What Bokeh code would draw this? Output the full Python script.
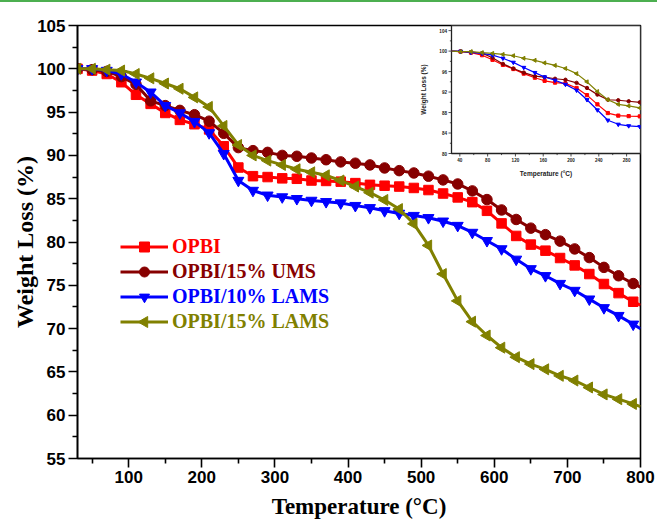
import math

from bokeh.core.properties import value
from bokeh.embed import file_html
from bokeh.layouts import column
from bokeh.models import Div, FixedTicker, Legend, LegendItem, Range1d
from bokeh.plotting import figure
from bokeh.resources import INLINE

# ---- TGA data (weight remaining, %) ----
temperature = [30, 50, 70, 90, 110, 130, 150, 170, 190, 210, 230, 250, 270, 290,
               310, 330, 350, 370, 390, 410, 430, 450, 470, 490, 510, 530, 550,
               570, 590, 610, 630, 650, 670, 690, 710, 730, 750, 770, 790, 800]

opbi = [100.0, 99.8, 99.4, 98.45, 97.0, 95.95, 94.9, 94.1, 93.6, 93.0, 91.05,
        88.6, 87.6, 87.5, 87.35, 87.3, 87.1, 87.05, 86.97, 86.8, 86.6, 86.5,
        86.4, 86.24, 86.0, 85.6, 85.15, 84.6, 83.6, 82.15, 80.7, 79.7, 79.0,
        78.15, 77.3, 76.3, 75.15, 74.1, 73.1, 72.7]

opbi_ums15 = [100.0, 99.9, 99.7, 99.1, 98.2, 96.3, 95.75, 95.2, 94.7, 93.95,
              92.55, 90.9, 90.55, 90.35, 90.0, 89.9, 89.7, 89.5, 89.25, 89.1,
              88.9, 88.55, 88.24, 87.97, 87.6, 87.17, 86.7, 85.9, 84.9, 83.7,
              82.6, 81.6, 80.85, 80.1, 79.2, 78.2, 77.07, 76.1, 75.2, 74.8]

opbi_lams10 = [100.0, 100.0, 99.8, 99.4, 98.45, 97.3, 95.75, 94.9, 93.9, 92.6,
               90.2, 87.1, 85.95, 85.4, 85.2, 85.0, 84.8, 84.65, 84.5, 84.2,
               83.95, 83.6, 83.3, 83.05, 82.8, 82.4, 81.9, 81.1, 80.15, 79.2,
               78.0, 76.9, 76.1, 75.2, 74.4, 73.4, 72.4, 71.5, 70.5, 70.0]

opbi_lams15 = [100.0, 100.0, 99.9, 99.8, 99.4, 98.9, 98.3, 97.7, 96.7, 95.6,
               93.4, 91.2, 90.0, 89.4, 88.9, 88.4, 88.05, 87.7, 87.1, 86.4,
               85.7, 84.85, 83.8, 82.1, 79.6, 76.3, 73.2, 70.8, 69.2, 67.8,
               66.7, 65.9, 65.3, 64.55, 64.0, 63.2, 62.4, 61.85, 61.3, 61.0]

# low-temperature detail (inset)
inset_temperature = [28, 41, 56, 72, 87, 102, 117, 132, 148, 162, 177, 192,
                     208, 223, 238, 253, 268, 283, 299]
inset_opbi = [100.0, 99.9, 99.7, 99.2, 98.3, 97.3, 96.5, 95.6, 94.8, 94.2,
              93.85, 93.7, 92.8, 91.4, 89.6, 87.9, 87.4, 87.3, 87.25]
inset_ums15 = [100.0, 99.95, 99.8, 99.6, 98.7, 97.5, 96.6, 95.8, 95.1, 94.9,
               94.6, 94.4, 93.8, 92.8, 91.5, 90.5, 90.4, 90.2, 90.0]
inset_lams10 = [100.0, 99.95, 99.75, 99.55, 99.2, 98.6, 97.8, 96.8, 95.8,
                94.95, 94.3, 93.5, 92.35, 90.5, 88.5, 86.5, 85.7, 85.4, 85.25]
inset_lams15 = [100.0, 99.9, 99.9, 99.7, 99.55, 99.35, 99.1, 98.6, 98.2, 97.7,
                97.2, 96.6, 95.6, 94.0, 92.1, 90.5, 89.6, 89.3, 88.9]

series_names = ["OPBI", "OPBI/15% UMS", "OPBI/10% LAMS", "OPBI/15% LAMS"]
x_ticks = [100, 200, 300, 400, 500, 600, 700, 800]
y_ticks = [55, 60, 65, 70, 75, 80, 85, 90, 95, 100, 105]
inset_x_ticks = [40, 80, 120, 160, 200, 240, 280]
inset_y_ticks = [80, 84, 88, 92, 96, 100, 104]

# ---- styles ----
colors = ["#ff0000", "#870000", "#0000ff", "#808000"]
markers = ["square", "circle", "inverted_triangle", "triangle"]
angles = [0, 0, 0, math.pi / 2]          # last one: left-pointing triangle
sizes = [9.5, 10.5, 11, 11]
inset_sizes = [3.2, 3.4, 4, 4]

W, H = 657, 519
TOP = 2                                    # height of the rule above the figure
FL, FR, FT, FB = 77, 640, 23, 456          # main frame box (figure pixels)
IL, IR, IT, IB = 451, 640, 23, 151          # inset box (figure pixels)

p = figure(width=W, height=H, x_range=Range1d(30, 800), y_range=Range1d(55, 105),
           output_backend="svg", toolbar_location=None,
           min_border_left=FL, min_border_right=W - FR,
           min_border_top=FT, min_border_bottom=H - FB)
p.background_fill_color = "white"
p.border_fill_color = "white"
p.outline_line_color = "black"
p.outline_line_width = 1.6
p.xgrid.visible = False
p.ygrid.visible = False


def mids(t):
    return [(a + b) / 2 for a, b in zip(t[:-1], t[1:])]


p.xaxis.ticker = FixedTicker(ticks=x_ticks, minor_ticks=[50] + [t + 50 for t in x_ticks[:-1]])
p.yaxis.ticker = FixedTicker(ticks=y_ticks, minor_ticks=mids(y_ticks))
for ax in (p.xaxis, p.yaxis):
    ax.axis_line_width = 1.6
    ax.major_tick_line_width = 1.6
    ax.minor_tick_line_width = 1.6
    ax.major_tick_in = 0
    ax.major_tick_out = 9
    ax.minor_tick_in = 0
    ax.minor_tick_out = 5
    ax.major_label_text_font = "Liberation Sans"
    ax.major_label_text_font_style = "bold"
    ax.major_label_text_font_size = "17px"
    ax.major_label_text_color = "black"
    ax.axis_label_text_font = "Liberation Serif"
    ax.axis_label_text_font_style = "bold"
    ax.axis_label_text_color = "black"

p.xaxis.axis_label = "Temperature (\u00b0C)"
p.xaxis.axis_label_text_font_size = "23px"
p.xaxis.major_label_standoff = 3
p.xaxis.axis_label_standoff = 8
p.yaxis.axis_label = "Weight Loss (%)"
p.yaxis.axis_label_text_font_size = "24px"
p.yaxis.major_label_standoff = 3
p.yaxis.axis_label_standoff = -4

# ---- main curves ----
main_series = [opbi, opbi_ums15, opbi_lams10, opbi_lams15]
renderers = []
for ys, c, m, a, s in zip(main_series, colors, markers, angles, sizes):
    ln = p.line(temperature, ys, line_color=c, line_width=3)
    pts = p.scatter(temperature[:-1], ys[:-1], marker=m, angle=a, size=s,
                    fill_color=c, line_color=c)
    renderers.append((ln, pts))

# legend: one block per series so each label takes its curve colour.
# Legend keys are never rotated by Bokeh, so rotated keys are drawn on a
# pixel-space overlay instead.
p.extra_x_ranges = {"px": Range1d(FL, FR)}
p.extra_y_ranges = {"px": Range1d(FB + TOP, FT + TOP)}
row_centres = [246.5, 271.5, 296, 321.5]     # page y of each entry
key_x = 120 + 24                             # centre of each key (page x)
for name, c, m, a, s, (ln, pts), yc in zip(series_names, colors, markers, angles,
                                           sizes, renderers, row_centres):
    keep = [ln, pts] if a == 0 else [ln]
    leg = Legend(items=[LegendItem(label=name, renderers=keep)],
                 location=(120 - FL, (FB + TOP) - (yc + 12.5)),
                 glyph_width=48, glyph_height=25, label_height=25,
                 label_standoff=4, padding=0, margin=0, spacing=0,
                 border_line_alpha=0, background_fill_alpha=0,
                 label_text_font="Liberation Serif", label_text_font_style="bold",
                 label_text_font_size="20px", label_text_color=c)
    p.add_layout(leg)
    if a != 0:
        p.scatter([key_x], [yc], marker=m, angle=a, size=s, fill_color=c,
                  line_color=c, x_range_name="px", y_range_name="px", level="overlay")

# ---- inset (low-temperature range) on its own coordinate system ----
ix0, ix1, iy0, iy1 = 28, 300, 80, 105
kx = (IR - IL) / (ix1 - ix0)     # px per degree
ky = (IB - IT) / (iy1 - iy0)     # px per percent
p.extra_x_ranges["ins"] = Range1d(ix0 - (IL - FL) / kx, ix1 + (FR - IR) / kx)
p.extra_y_ranges["ins"] = Range1d(iy0 - (FB - IB) / ky, iy1 + (IT - FT) / ky)
ins = dict(x_range_name="ins", y_range_name="ins")

p.quad(left=[ix0], right=[ix1], bottom=[iy0], top=[iy1], fill_color="white",
       line_color="#222222", line_width=1.3, **ins)

inset_series = [inset_opbi, inset_ums15, inset_lams10, inset_lams15]
for ys, c, m, a, s in zip(inset_series, colors, markers, angles, inset_sizes):
    p.line(inset_temperature, ys, line_color=c, line_width=1.2, **ins)
    p.scatter(inset_temperature[1:], ys[1:], marker=m, angle=a, size=s,
              fill_color=c, line_color=c, **ins)

# inset ticks
maj, mnr = 3.0, 1.6
ix_minor = mids(inset_x_ticks) + [300]
iy_minor = mids(inset_y_ticks)
p.segment(x0=inset_x_ticks, y0=[iy0] * len(inset_x_ticks), x1=inset_x_ticks,
          y1=[iy0 - maj / ky] * len(inset_x_ticks), line_color="#222222", line_width=0.8, **ins)
p.segment(x0=ix_minor, y0=[iy0] * len(ix_minor), x1=ix_minor,
          y1=[iy0 - mnr / ky] * len(ix_minor), line_color="#222222", line_width=0.8, **ins)
p.segment(x0=[ix0] * len(inset_y_ticks), y0=inset_y_ticks, x1=[ix0 - maj / kx] * len(inset_y_ticks),
          y1=inset_y_ticks, line_color="#222222", line_width=0.8, **ins)
p.segment(x0=[ix0] * len(iy_minor), y0=iy_minor, x1=[ix0 - mnr / kx] * len(iy_minor),
          y1=iy_minor, line_color="#222222", line_width=0.8, **ins)

small = dict(text_font=value("Liberation Sans"), text_font_style="bold", text_color="#222222")
p.text(x=inset_x_ticks, y=[iy0] * len(inset_x_ticks), text=[str(t) for t in inset_x_ticks],
       text_align="center", text_baseline="middle", y_offset=6.5,
       text_font_size="4.6px", **small, **ins)
p.text(x=[ix0] * len(inset_y_ticks), y=inset_y_ticks, text=[str(t) for t in inset_y_ticks],
       text_align="right", text_baseline="middle", x_offset=-4.5,
       text_font_size="4.6px", **small, **ins)
p.text(x=[(ix0 + ix1) / 2], y=[iy0], text=["Temperature (\u00b0C)"], text_align="center",
       text_baseline="middle", y_offset=20, text_font_size="6.5px", **small, **ins)
p.text(x=[ix0], y=[(iy0 + iy1) / 2], text=["Weight Loss (%)"], angle=math.pi / 2,
       text_align="center", text_baseline="middle", x_offset=-28,
       text_font_size="6.5px", **small, **ins)

top_rule = Div(width=W, height=TOP, margin=0, styles={"background-color": "#4caf50"})
layout = column(top_rule, p, spacing=0)

open("out.html", "w").write(file_html(layout, INLINE))
